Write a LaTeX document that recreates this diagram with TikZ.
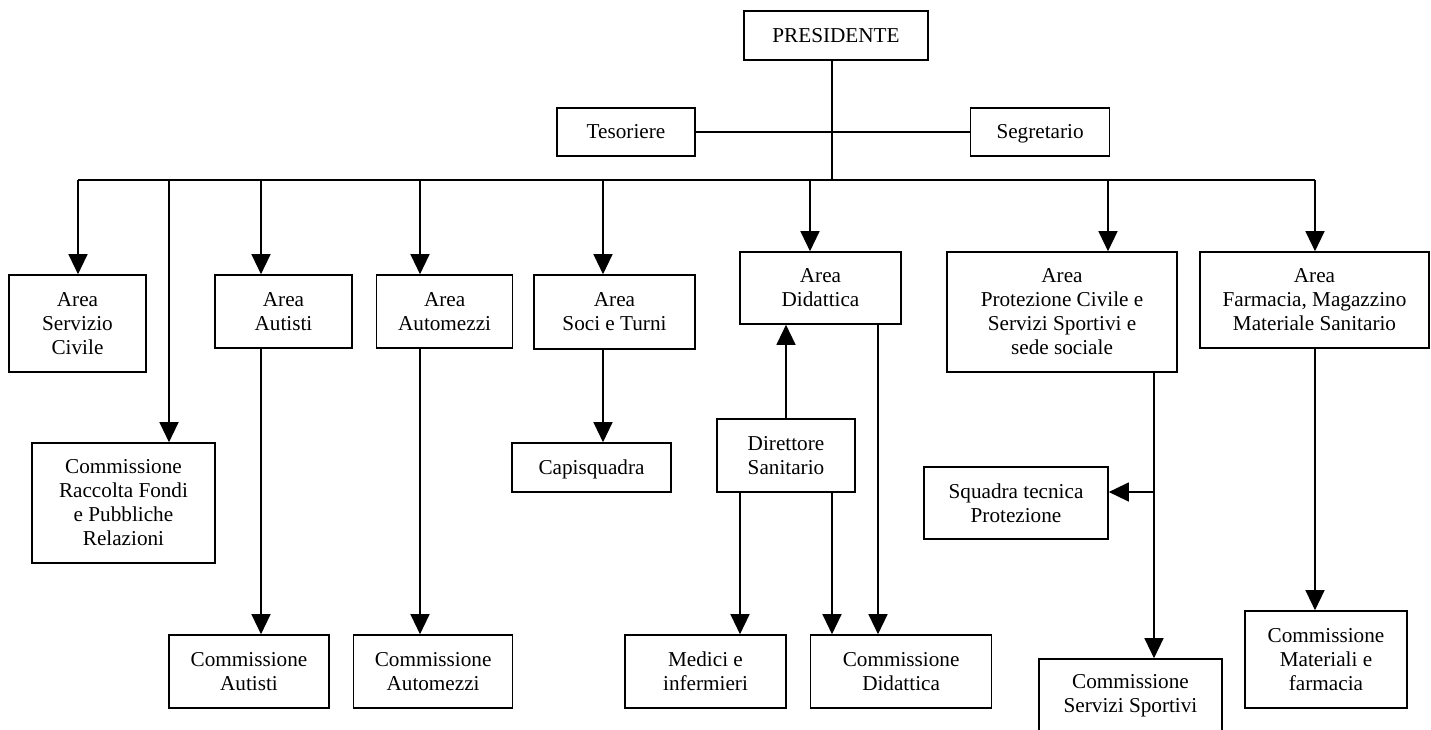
\documentclass[tikz,border=0pt]{standalone}
\usepackage{fontspec}
\setmainfont{Liberation Serif}
\usepackage{tikz}
\usetikzlibrary{arrows.meta, positioning}

\begin{document}
\begin{tikzpicture}[x=0.5pt, y=-0.5pt]
\tikzstyle{unit} = [rectangle, draw, line width=0.8pt, align=center, inner sep=2pt, font=\fontsize{10.6}{12}\selectfont]
\tikzstyle{oneline} = [text height=0.68em, text depth=0em]
\tikzstyle{link} = [line width=0.6pt]
\tikzstyle{arr} = [line width=0.6pt, -{Triangle[length=10pt, width=9.5pt]}]

\useasboundingbox (0,0) rectangle (1431,729);

% top
\node (pres) [unit, oneline, minimum width=92pt, minimum height=24.5pt] at (836,35.5) {PRESIDENTE};
\node (tes) [unit, oneline, minimum width=69pt, minimum height=24pt] at (626,132) {Tesoriere};
\node (seg) [unit, oneline, minimum width=69.5pt, minimum height=24pt, right=137pt of tes] {Segretario};

% areas
\node (civ) [unit, minimum width=68.5pt, minimum height=48.5pt] at (77.5,323.5) {Area\\Servizio\\Civile};
\node (aut) [unit, minimum width=68.5pt, minimum height=36.5pt] at (283.5,311.5) {Area\\Autisti};
\node (mez) [unit, minimum width=68pt, minimum height=36.5pt, right=11.5pt of aut] {Area\\Automezzi};
\node (soci) [unit, minimum width=80.5pt, minimum height=37pt] at (614.5,312) {Area\\Soci e Turni};
\node (did) [unit, minimum width=80.5pt, minimum height=36pt] at (820.5,288) {Area\\Didattica};
\node (prot) [unit, minimum width=115pt, minimum height=60pt] at (1062,312) {Area\\Protezione Civile e\\Servizi Sportivi e\\sede sociale};
\node (farm) [unit, minimum width=114.5pt, minimum height=48pt] at (1314.5,300) {Area\\Farmacia, Magazzino\\Materiale Sanitario};

% middle
\node (rac) [unit, minimum width=91.5pt, minimum height=60pt] at (123.5,503) {Commissione\\Raccolta Fondi\\e Pubbliche\\Relazioni};
\node (capi) [unit, oneline, minimum width=79.5pt, minimum height=24.5pt] at (591.5,467.5) {Capisquadra};
\node (dir) [unit, minimum width=69pt, minimum height=36.5pt] at (786,455.5) {Direttore\\Sanitario};
\node (sq) [unit, minimum width=92pt, minimum height=36pt] at (1016,503) {Squadra tecnica\\Protezione};

% bottom
\node (caut) [unit, minimum width=80pt, minimum height=36.5pt] at (249,671.5) {Commissione\\Autisti};
\node (cmez) [unit, minimum width=79.5pt, minimum height=36.5pt, right=11.5pt of caut] {Commissione\\Automezzi};
\node (med) [unit, minimum width=80.5pt, minimum height=36.5pt] at (705.5,671.5) {Medici e\\infermieri};
\node (cdid) [unit, minimum width=90.5pt, minimum height=36.5pt, right=11.5pt of med] {Commissione\\Didattica};
\node (csport) [unit, minimum width=91.5pt, minimum height=36.5pt] at (1130.5,695.5) {Commissione\\Servizi Sportivi};
\node (cmat) [unit, minimum width=81pt, minimum height=48.5pt] at (1326,659.5) {Commissione\\Materiali e\\farmacia};

% trunk and bus
\coordinate (hub) at (832,180);
\draw [link] (pres.south -| hub) -- (hub);
\draw [link] (tes) -- (seg);
\foreach \n/\c in {civ/78, rac/169, aut/261, mez/420, soci/603, did/810, prot/1108, farm/1315} {
  \coordinate (d-\n) at (\c,180);
  \draw [arr] (d-\n) -- (d-\n |- \n.north);
}
\draw [link] (d-civ) -- (d-farm);

% lower links
\draw [arr] (d-aut |- aut.south) -- (d-aut |- caut.north);
\draw [arr] (d-mez |- mez.south) -- (d-mez |- cmez.north);
\draw [arr] (d-soci |- soci.south) -- (d-soci |- capi.north);
\draw [arr] (d-farm |- farm.south) -- (d-farm |- cmat.north);
\draw [arr] (dir.north) -- (dir.north |- did.south);

\coordinate (x-did) at (878,0);
\coordinate (x-med) at (740,0);
\coordinate (x-dir) at (832,0);
\coordinate (x-prot) at (1154,0);
\coordinate (br) at (1154,492);
\draw [arr] (x-did |- did.south) -- (x-did |- cdid.north);
\draw [arr] (x-med |- dir.south) -- (x-med |- med.north);
\draw [arr] (x-dir |- dir.south) -- (x-dir |- cdid.north);
\draw [arr] (x-prot |- prot.south) -- (x-prot |- csport.north);
\draw [arr] (br) -- (br -| sq.east);

\end{tikzpicture}
\end{document}
